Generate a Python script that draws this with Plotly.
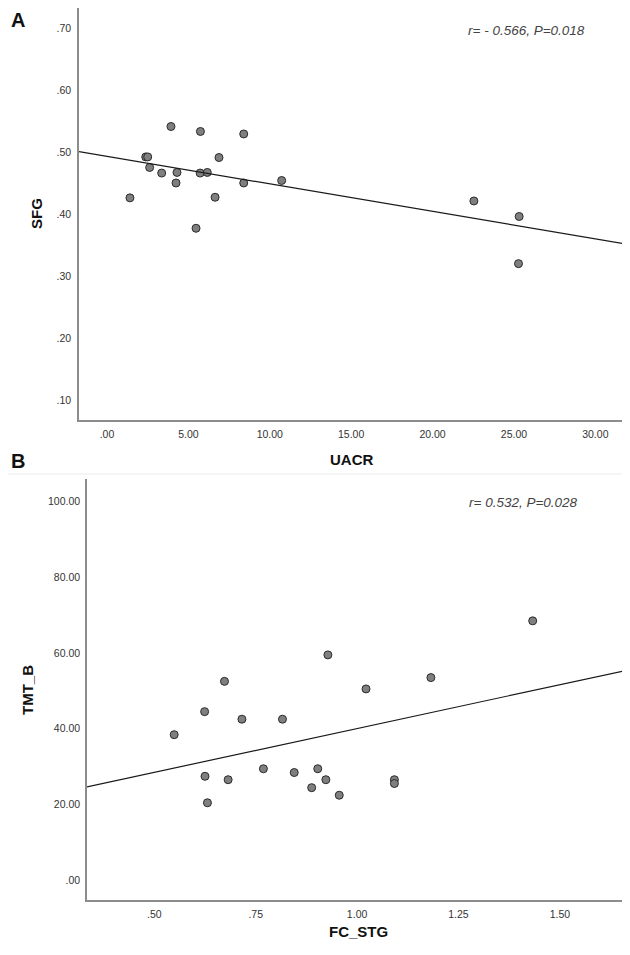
import numpy as np
import plotly.graph_objects as go

# ---------------- data ----------------
uacr = [1.41, 2.38, 2.50, 2.62, 3.36, 3.93, 4.24, 4.30, 5.47, 5.74,
        5.72, 6.16, 6.64, 6.88, 8.40, 8.40, 10.73, 22.54, 25.32, 25.28]
sfg = [0.426, 0.492, 0.492, 0.475, 0.466, 0.541, 0.450, 0.467, 0.377, 0.533,
       0.466, 0.467, 0.427, 0.491, 0.529, 0.450, 0.454, 0.421, 0.396, 0.320]

fc_stg = [0.673, 0.624, 0.716, 0.816, 0.549, 0.625, 0.682, 0.631, 0.769, 0.845,
          0.888, 0.903, 0.923, 0.956, 1.092, 1.092, 0.928, 1.022, 1.182, 1.433]
tmt_b = [52.5, 44.5, 42.5, 42.5, 38.4, 27.4, 26.5, 20.4, 29.4, 28.4,
         24.4, 29.4, 26.5, 22.4, 26.5, 25.5, 59.5, 50.5, 53.5, 68.5]

a_xticks = [0, 5, 10, 15, 20, 25, 30]
a_xtext = [".00", "5.00", "10.00", "15.00", "20.00", "25.00", "30.00"]
a_yticks = [0.1, 0.2, 0.3, 0.4, 0.5, 0.6, 0.7]
a_ytext = [".10", ".20", ".30", ".40", ".50", ".60", ".70"]

b_xticks = [0.5, 0.75, 1.0, 1.25, 1.5]
b_xtext = [".50", ".75", "1.00", "1.25", "1.50"]
b_yticks = [0, 20, 40, 60, 80, 100]
b_ytext = [".00", "20.00", "40.00", "60.00", "80.00", "100.00"]

a_stat = "r= - 0.566, P=0.018"
b_stat = "r= 0.532, P=0.028"

# ---------------- layout helpers ----------------
# the page body has an 8px default margin, so the figure is offset by 8px
OFF = 8
W, H = 630 - OFF, 955 - OFF
FONT = "Liberation Sans, Arial, sans-serif"

def px(x):
    return (x - OFF) / W

def py(y):
    return min(1.0, max(0.0, 1 - (y - OFF) / H))

a_xrange = [-1.72, 31.7]
a_yrange = [0.068, 0.732]
b_xrange = [0.334, 1.668]
b_yrange = [-5.3, 106]

fig = go.Figure()

marker = dict(size=8, color="#7f7f7f", line=dict(color="#2b2b2b", width=1))

# Panel A
fig.add_trace(go.Scatter(x=uacr, y=sfg, mode="markers", marker=marker,
                         xaxis="x", yaxis="y", showlegend=False))
ka, ba = np.polyfit(uacr, sfg, 1)
fx = np.array(a_xrange)
fig.add_trace(go.Scatter(x=fx, y=ka * fx + ba, mode="lines",
                         line=dict(color="#1a1a1a", width=1.2),
                         xaxis="x", yaxis="y", showlegend=False))

# Panel B
fig.add_trace(go.Scatter(x=fc_stg, y=tmt_b, mode="markers", marker=marker,
                         xaxis="x2", yaxis="y2", showlegend=False))
kb, bb = np.polyfit(fc_stg, tmt_b, 1)
fx2 = np.array(b_xrange)
fig.add_trace(go.Scatter(x=fx2, y=kb * fx2 + bb, mode="lines",
                         line=dict(color="#1a1a1a", width=1.2),
                         xaxis="x2", yaxis="y2", showlegend=False))

axis_common = dict(showline=True, linecolor="#8c8c8c", linewidth=1.5,
                   showgrid=False, zeroline=False, ticks="", automargin=False,
                   tickfont=dict(family=FONT, size=10.5, color="#333333"),
                   fixedrange=True)

fig.update_layout(
    width=W, height=H, autosize=False,
    margin=dict(l=0, r=0, t=0, b=0),
    paper_bgcolor="white", plot_bgcolor="white",
    xaxis=dict(domain=[px(79), px(623)], range=a_xrange, anchor="y",
               tickmode="array", tickvals=a_xticks, ticktext=a_xtext,
               ticklabelstandoff=4, **axis_common),
    yaxis=dict(domain=[py(420), py(8)], range=a_yrange, anchor="x",
               tickmode="array", tickvals=a_yticks, ticktext=a_ytext,
               ticklabelstandoff=4, **axis_common),
    xaxis2=dict(domain=[px(87), px(628)], range=b_xrange, anchor="y2",
                tickmode="array", tickvals=b_xticks, ticktext=b_xtext,
                ticklabelstandoff=4, **axis_common),
    yaxis2=dict(domain=[py(900), py(479)], range=b_yrange, anchor="x2",
                tickmode="array", tickvals=b_yticks, ticktext=b_ytext,
                ticklabelstandoff=3, **axis_common),
)

def ann(text, x, y, size, bold=False, italic=False, angle=0, color="#111111"):
    t = text
    if bold:
        t = "<b>" + t + "</b>"
    if italic:
        t = "<i>" + t + "</i>"
    fig.add_annotation(text=t, x=px(x), y=py(y), xref="paper", yref="paper",
                       showarrow=False, textangle=angle, xanchor="center", yanchor="middle",
                       font=dict(family=FONT, size=size, color=color))

ann("A", 17.5, 20, 20, bold=True)
ann("B", 17.5, 461, 20, bold=True)
ann("SFG", 37, 214, 15, bold=True, angle=-90)
ann("UACR", 351, 459, 15, bold=True)
ann("TMT_B", 27, 690, 15, bold=True, angle=-90)
ann("FC_STG", 358, 931, 15, bold=True)
ann(a_stat, 526, 31, 13.5, italic=True, color="#444444")
ann(b_stat, 523, 502, 13.5, italic=True, color="#444444")

# faint separator between panels
fig.add_shape(type="line", xref="paper", yref="paper",
              x0=px(8), x1=px(628), y0=py(474), y1=py(474),
              line=dict(color="#ececec", width=1))

fig.write_html("out.html")
